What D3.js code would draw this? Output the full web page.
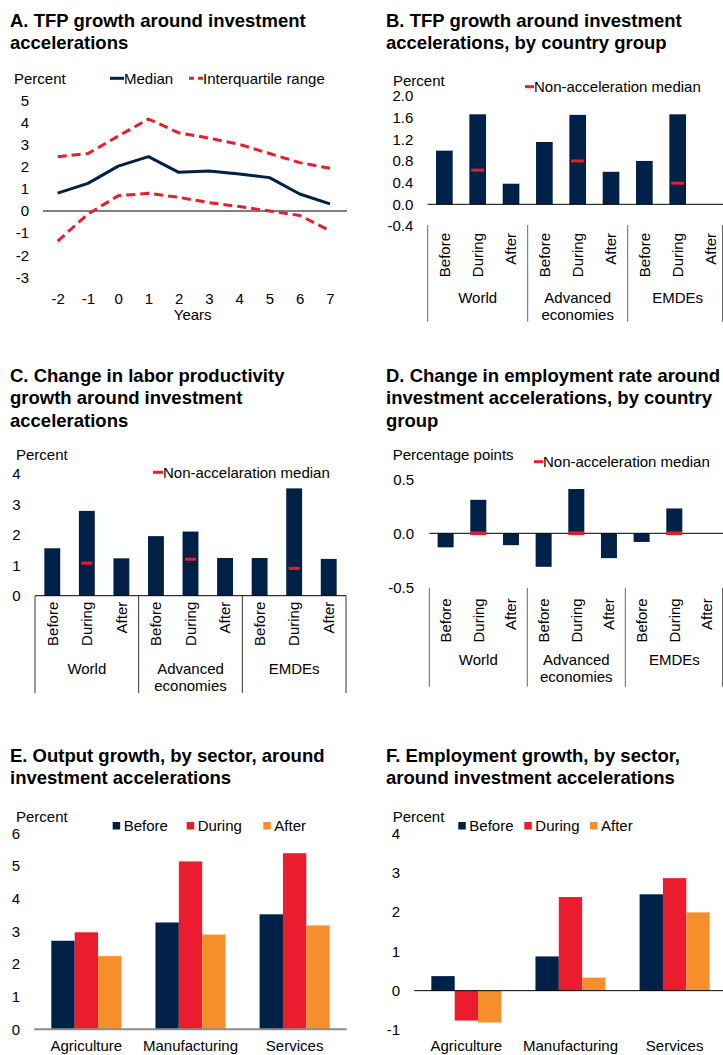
<!DOCTYPE html>
<html>
<head>
<meta charset="utf-8">
<script src="https://cdn.jsdelivr.net/npm/d3@7"></script>
<style>
  html, body { margin: 0; padding: 0; background: #fff; }
  svg { display: block; }
</style>
</head>
<body>
<svg id="chart" width="723" height="1055"></svg>
<script>
// ---------------- DATA ----------------
const yearsA = [-2, -1, 0, 1, 2, 3, 4, 5, 6, 7];
const medianA = [0.81, 1.25, 2.03, 2.46, 1.75, 1.81, 1.67, 1.51, 0.77, 0.32];
const upperA = [2.46, 2.60, 3.39, 4.16, 3.54, 3.30, 3.02, 2.60, 2.19, 1.93];
const lowerA = [-1.36, -0.14, 0.69, 0.80, 0.62, 0.38, 0.20, 0.00, -0.20, -0.89];
const ticksA = [-3, -2, -1, 0, 1, 2, 3, 4, 5];

const countryGroups = ["World", "Advanced economies", "EMDEs"];
const phases = ["Before", "During", "After"];

const tfpB = [0.99, 1.66, 0.38, 1.15, 1.65, 0.60, 0.80, 1.66, 0.00];
const tfpMedianB = [0.63, 0.80, 0.39];
const ticksB = [-0.4, 0.0, 0.4, 0.8, 1.2, 1.6, 2.0];

const laborC = [1.56, 2.79, 1.23, 1.96, 2.11, 1.24, 1.24, 3.53, 1.21];
const laborMedianC = [1.07, 1.20, 0.90];
const ticksC = [0, 1, 2, 3, 4];

const emplD = [-0.13, 0.31, -0.11, -0.31, 0.41, -0.23, -0.08, 0.23, 0.00];
const emplMedianD = [0.0, 0.0, 0.0];
const ticksD = [-0.5, 0.0, 0.5];

const sectors = ["Agriculture", "Manufacturing", "Services"];
const outputBefore = [2.71, 3.27, 3.52];
const outputDuring = [2.97, 5.14, 5.39];
const outputAfter = [2.24, 2.90, 3.18];
const ticksE = [0, 1, 2, 3, 4, 5, 6];

const employBefore = [0.37, 0.87, 2.45];
const employDuring = [-0.76, 2.38, 2.86];
const employAfter = [-0.81, 0.33, 1.99];
const ticksF = [-1, 0, 1, 2, 3, 4];

// ---------------- STYLE ----------------
const FONT = '"Liberation Sans", Arial, Helvetica, sans-serif';
const NAVY = "#002147";
const RED = "#EB1C2D";
const ORANGE = "#F68E2C";
const FS = 15;

const svg = d3.select("#chart");
svg.append("rect").attr("width", 723).attr("height", 1055).attr("fill", "#fff");

function hy(spec) {
  const f = d3.format(spec);
  return d => f(d).replace("\u2212", "-");
}
function title(x, y0, lines) {
  const t = svg.append("text").attr("font-family", FONT).attr("font-size", 18.5)
    .attr("font-weight", "bold").attr("fill", "#000");
  lines.forEach((l, i) => t.append("tspan").attr("x", x).attr("y", y0 + i * 22.4).text(l));
}
function label(x, y, txt, anchor) {
  return svg.append("text").attr("x", x).attr("y", y).attr("font-family", FONT)
    .attr("font-size", FS).attr("fill", "#000").attr("text-anchor", anchor || "start").text(txt);
}
function yAxis(scale, ticks, fmt, endX) {
  const g = svg.append("g").attr("transform", `translate(${endX + 4},0)`)
    .call(d3.axisLeft(scale).tickValues(ticks).tickSize(0).tickPadding(4).tickFormat(fmt));
  g.select(".domain").remove();
  g.attr("font-family", FONT).attr("font-size", FS);
  g.selectAll("text").attr("fill", "#000");
  return g;
}

// ---------------- PANEL A ----------------
title(10, 26.7, ["A. TFP growth around investment", "accelerations"]);
{
  const x = d3.scaleLinear().domain([-2, 7]).range([57.7, 330]);
  const y = d3.scaleLinear().domain([-3, 5]).range([277.3, 100.5]);
  yAxis(y, ticksA, hy("d"), 29);
  svg.append("line").attr("x1", 43).attr("x2", 347).attr("y1", y(0)).attr("y2", y(0))
    .attr("stroke", "#000").attr("stroke-width", 1);
  const gx = svg.append("g").attr("transform", "translate(0,293)")
    .call(d3.axisBottom(x).tickValues(yearsA).tickSize(0).tickPadding(0).tickFormat(hy("d")));
  gx.select(".domain").remove();
  gx.attr("font-family", FONT).attr("font-size", FS);
  gx.selectAll("text").attr("fill", "#000");
  label(192.7, 319.5, "Years", "middle");
  const line = d3.line().x((d, i) => x(yearsA[i])).y(d => y(d));
  svg.append("path").attr("d", line(upperA)).attr("fill", "none").attr("stroke", RED)
    .attr("stroke-width", 3).attr("stroke-dasharray", "9,5");
  svg.append("path").attr("d", line(lowerA)).attr("fill", "none").attr("stroke", RED)
    .attr("stroke-width", 3).attr("stroke-dasharray", "9,5");
  svg.append("path").attr("d", line(medianA)).attr("fill", "none").attr("stroke", NAVY)
    .attr("stroke-width", 3).attr("stroke-linejoin", "round");
  label(14, 83.7, "Percent");
  svg.append("line").attr("x1", 110).attr("x2", 124).attr("y1", 78.3).attr("y2", 78.3)
    .attr("stroke", NAVY).attr("stroke-width", 3);
  label(124, 83.7, "Median");
  svg.append("line").attr("x1", 189).attr("x2", 203).attr("y1", 78.3).attr("y2", 78.3)
    .attr("stroke", RED).attr("stroke-width", 3).attr("stroke-dasharray", "5,4");
  label(203, 83.7, "Interquartile range");
}

// ---------------- PANELS B, C, D ----------------
function groupPanel(o) {
  const n = countryGroups.length * phases.length;
  const xb = d3.scaleBand().domain(d3.range(n)).range([o.x0, o.x1])
    .paddingInner(o.pi).paddingOuter(o.pi / 2);
  const y = d3.scaleLinear().domain(o.yDomain).range(o.yRange);
  yAxis(y, o.ticks, o.fmt, o.labelEnd);
  const bw = xb.bandwidth();
  svg.append("g").selectAll("rect").data(o.values).join("rect")
    .attr("x", (d, i) => xb(i)).attr("width", bw)
    .attr("y", d => y(Math.max(0, d)))
    .attr("height", d => Math.abs(y(d) - y(0)))
    .attr("fill", NAVY);
  svg.append("line").attr("x1", o.x0).attr("x2", Math.min(o.x1, 723)).attr("y1", y(0)).attr("y2", y(0))
    .attr("stroke", "#000").attr("stroke-width", 1);
  svg.append("g").selectAll("rect").data(o.medians).join("rect")
    .attr("x", (d, g) => xb(g * 3 + 1) + bw / 2 - o.mw / 2).attr("width", o.mw)
    .attr("y", d => y(d) - o.mh / 2).attr("height", o.mh).attr("fill", RED);
  const step = xb.step();
  for (let g = 0; g <= countryGroups.length; g++) {
    const xx = Math.min(o.x0 + g * 3 * step, 722.5);
    svg.append("line").attr("x1", xx).attr("x2", xx).attr("y1", o.sepTop).attr("y2", o.sepBottom)
      .attr("stroke", o.sepColor).attr("stroke-width", 1);
  }
  d3.range(n).forEach(i => {
    svg.append("text").attr("font-family", FONT).attr("font-size", FS).attr("fill", "#000")
      .attr("transform", `translate(${xb(i) + bw / 2},${o.catTop}) rotate(-90)`)
      .attr("text-anchor", "end").attr("dy", "0.35em").text(phases[i % 3]);
  });
  countryGroups.forEach((gName, g) => {
    const cx = o.x0 + (g * 3 + 1.5) * step;
    const words = gName.length > 10 ? gName.split(" ") : [gName];
    const t = svg.append("text").attr("font-family", FONT).attr("font-size", FS)
      .attr("fill", "#000").attr("text-anchor", "middle");
    words.forEach((w, k) => t.append("tspan").attr("x", cx).attr("y", o.groupBase + k * o.groupLH).text(w));
  });
  label(o.unitX, o.unitY, o.unit);
  svg.append("rect").attr("x", o.legX).attr("y", o.legY - 1.5).attr("width", o.legW).attr("height", 3).attr("fill", RED);
  label(o.legX + o.legW, o.legY + 5.3, o.legText);
}

title(386, 26.7, ["B. TFP growth around investment", "accelerations, by country group"]);
groupPanel({
  x0: 427.7, x1: 727.7, pi: 0.5, yDomain: [-0.4, 2.0], yRange: [226, 95.9],
  ticks: ticksB, fmt: hy(".1f"), labelEnd: 413.3,
  values: tfpB, medians: tfpMedianB, mw: 13, mh: 3,
  sepTop: 225, sepBottom: 321.7, sepColor: "#666", catTop: 233,
  groupBase: 302.5, groupLH: 17,
  unit: "Percent", unitX: 393, unitY: 86,
  legX: 525, legY: 86.7, legW: 9, legText: "Non-acceleration median"
});

title(10, 381.7, ["C. Change in labor productivity", "growth around investment", "accelerations"]);
groupPanel({
  x0: 35, x1: 346, pi: 0.54, yDomain: [0, 4], yRange: [595.7, 474.1],
  ticks: ticksC, fmt: hy("d"), labelEnd: 20.7,
  values: laborC, medians: laborMedianC, mw: 11, mh: 3,
  sepTop: 595.7, sepBottom: 693, sepColor: "#333", catTop: 601.7,
  groupBase: 673.7, groupLH: 17,
  unit: "Percent", unitX: 16, unitY: 459.7,
  legX: 153, legY: 472.3, legW: 10, legText: "Non-accelaration median"
});

title(386, 381.7, ["D. Change in employment rate around", "investment accelerations, by country", "group"]);
groupPanel({
  x0: 429.3, x1: 723.3, pi: 0.51, yDomain: [-0.5, 0.5], yRange: [587.3, 479.3],
  ticks: ticksD, fmt: hy(".1f"), labelEnd: 414,
  values: emplD, medians: emplMedianD, mw: 16, mh: 3.7,
  sepTop: 588, sepBottom: 686.7, sepColor: "#666", catTop: 598.3,
  groupBase: 665.3, groupLH: 16.5,
  unit: "Percentage points", unitX: 392.7, unitY: 459.5,
  legX: 534, legY: 461.7, legW: 9, legText: "Non-acceleration median"
});

// ---------------- PANELS E, F ----------------
function sectorPanel(o) {
  const xg = d3.scaleBand().domain(sectors).range([o.x0, o.x1]).paddingInner(0.327).paddingOuter(0.1635);
  const xi = d3.scaleBand().domain(phases).range([0, xg.bandwidth()]);
  const y = d3.scaleLinear().domain(o.yDomain).range(o.yRange);
  yAxis(y, o.ticks, hy("d"), o.labelEnd);
  const colors = [NAVY, RED, ORANGE];
  o.series.forEach((vals, s) => {
    svg.append("g").selectAll("rect").data(vals).join("rect")
      .attr("x", (d, i) => xg(sectors[i]) + xi(phases[s])).attr("width", xi.bandwidth())
      .attr("y", d => y(Math.max(0, d))).attr("height", d => Math.abs(y(d) - y(0)))
      .attr("fill", colors[s]);
  });
  svg.append("line").attr("x1", o.x0).attr("x2", Math.min(o.x1, 723)).attr("y1", y(0)).attr("y2", y(0))
    .attr("stroke", o.axisColor).attr("stroke-width", o.axisW);
  sectors.forEach(s => label(xg(s) + xg.bandwidth() / 2, 1051, s, "middle"));
  label(o.unitX, 822, "Percent");
  phases.forEach((p, k) => {
    svg.append("rect").attr("x", o.legX[k]).attr("y", 822).attr("width", 7.5).attr("height", 7.5).attr("fill", colors[k]);
    label(o.legX[k] + 11, 831, p);
  });
}

title(10, 762, ["E. Output growth, by sector, around", "investment accelerations"]);
sectorPanel({
  x0: 34.3, x1: 346.7, yDomain: [0, 6], yRange: [1029.3, 833.3], ticks: ticksE, labelEnd: 20,
  series: [outputBefore, outputDuring, outputAfter], axisColor: "#8c8c8c", axisW: 2,
  unitX: 16, legX: [112.7, 186.7, 263.3]
});

title(386, 762, ["F. Employment growth, by sector,", "around investment accelerations"]);
sectorPanel({
  x0: 414.3, x1: 726.7, yDomain: [-1, 4], yRange: [1030, 833.3], ticks: ticksF, labelEnd: 400,
  series: [employBefore, employDuring, employAfter], axisColor: "#000", axisW: 1,
  unitX: 392.7, legX: [458.3, 524.3, 590]
});
</script>
</body>
</html>
